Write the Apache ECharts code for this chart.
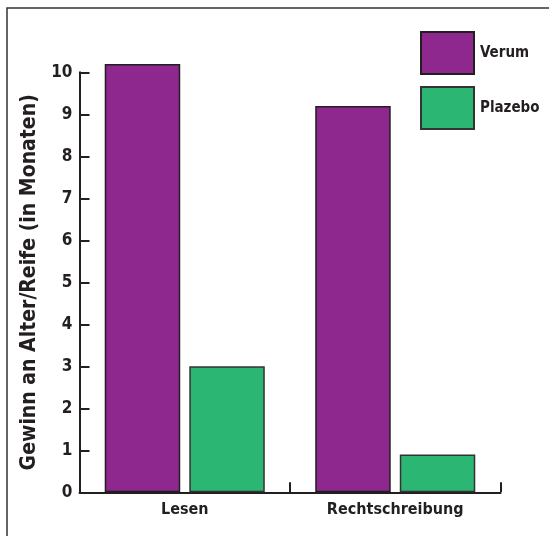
<!DOCTYPE html>
<html>
<head>
<meta charset="utf-8">
<style>
  html, body { margin: 0; padding: 0; background: #fff; }
  #chart { width: 549px; height: 536px; }
</style>
<script src="https://cdn.jsdelivr.net/npm/echarts@6/dist/echarts.min.js"></script>
</head>
<body>
<div id="chart"></div>
<script>
// Gain in reading and spelling age (months), Verum vs. Plazebo
const categories = ['Lesen', 'Rechtschreibung'];
const verum = [10.2, 9.2];
const plazebo = [3.0, 0.9];
const yTicks = [0, 1, 2, 3, 4, 5, 6, 7, 8, 9, 10];

const FONT = '"Liberation Sans Narrow", "DejaVu Sans Condensed", "Roboto", sans-serif';
const INK = '#231f20';

const chart = echarts.init(document.getElementById('chart'), null, { renderer: 'canvas' });

chart.setOption({
  animation: false,
  backgroundColor: '#fff',
  graphic: [{
    type: 'rect',
    shape: { x: 7, y: 8, width: 600, height: 600 },
    style: { fill: 'none', stroke: '#333', lineWidth: 1.5 },
    silent: true,
    z: -1
  }],
  grid: { left: 79.5, right: 48.5, top: 72.3, bottom: 43.7, containLabel: false },
  legend: {
    orient: 'vertical',
    left: 420,
    top: 31,
    itemWidth: 53,
    itemHeight: 42,
    itemGap: 11,
    padding: 0,
    icon: 'rect',
    textStyle: { fontFamily: FONT, fontWeight: 'bold', fontSize: 15, color: INK, padding: [0, 0, 0, 1] },
    data: ['Verum', 'Plazebo']
  },
  xAxis: {
    type: 'category',
    data: categories,
    axisLine: { lineStyle: { color: INK, width: 2 } },
    axisTick: { show: true, inside: true, length: 10, lineStyle: { color: INK, width: 2 } },
    axisLabel: { fontFamily: FONT, fontWeight: 'bold', fontSize: 16, color: INK, margin: 10 }
  },
  yAxis: {
    type: 'value',
    min: 0,
    max: 10,
    interval: 1,
    name: 'Gewinn an Alter/Reife (in Monaten)',
    nameLocation: 'middle',
    nameGap: 29,
    nameRotate: 90,
    nameTextStyle: { fontFamily: FONT, fontWeight: 'bold', fontSize: 21, color: INK },
    axisLine: { show: true, lineStyle: { color: INK, width: 2 } },
    axisTick: { show: true, inside: true, length: 10, lineStyle: { color: INK, width: 2 } },
    splitLine: { show: false },
    axisLabel: {
      fontFamily: FONT, fontWeight: 'bold', fontSize: 17, color: INK, margin: 7,
      formatter: v => (yTicks.indexOf(v) >= 0 ? String(v) : '')
    }
  },
  series: [
    {
      name: 'Verum',
      type: 'bar',
      data: verum,
      barWidth: 75.5,
      barGap: '12%',
      clip: false,
      itemStyle: { color: '#8e278e', borderColor: INK, borderWidth: 1.5 }
    },
    {
      name: 'Plazebo',
      type: 'bar',
      data: plazebo,
      barWidth: 75.5,
      barGap: '12%',
      clip: false,
      itemStyle: { color: '#2bb673', borderColor: '#333', borderWidth: 1.5 }
    }
  ]
});
</script>
</body>
</html>
